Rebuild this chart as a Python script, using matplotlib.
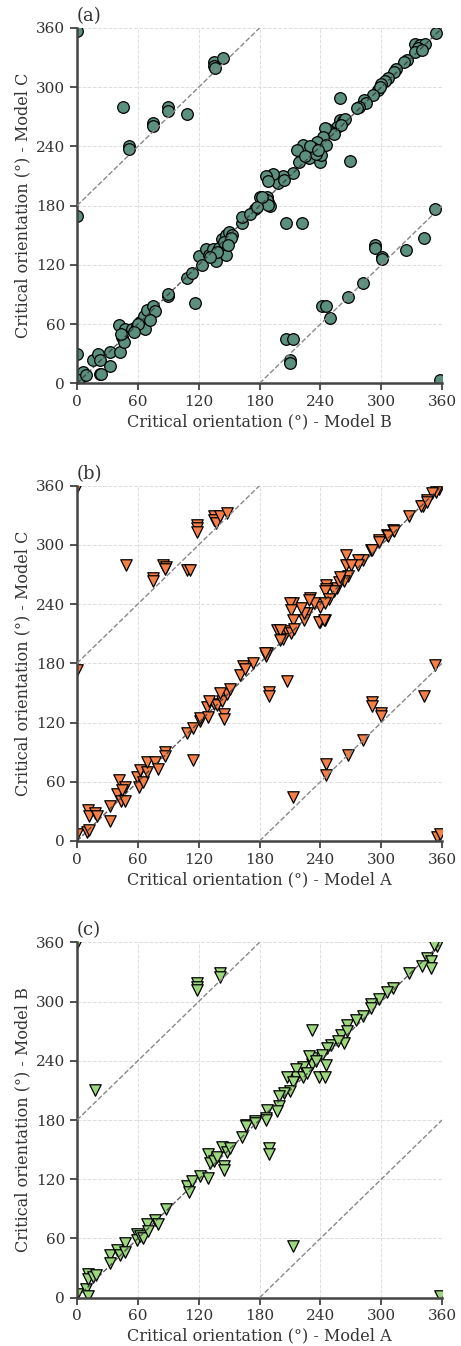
import matplotlib
matplotlib.use("Agg")
import matplotlib.pyplot as plt
import numpy as np

# ---------------- data ----------------
# Panel (a): Model B (x) vs Model C (y)
a_pts = [(0,357),(45,280),(51,240),(51,237),(75,264),(75,261),(90,280),(90,276),(108,273),(135,326),(135,322),(136,319),(144,330),
 (259,289),(269,225),
 (354,355),(333,344),(338,343),(343,344),(336,340),(333,336),(340,338),(325,328),(322,326),(315,318),(313,315),(307,309),(304,306),(300,303),(297,297),(299,300),(292,292),(283,287),(285,284),(278,280),(276,279),
 (259,267),(262,266),(264,268),(256,260),(260,262),(250,255),(247,258),(253,253),(245,259),(243,250),(240,241),(237,244),(233,238),(227,235),(223,241),(217,236),(219,224),(229,228),(240,224),(241,231),(246,241),(236,232),(230,240),(225,230),(238,236),
 (213,213),(203,210),(198,203),(193,212),(186,210),(188,205),(204,206),(180,189),(187,189),(188,184),(190,180),(176,177),(187,186),(188,181),
 (163,162),(163,169),(171,172),(177,179),(182,189),
 (0,170),(0,30),(3,5),(6,11),(1,3),(9,8),(22.7,9.4),(16,24),(21,30),(23,24),(24,9),(33,18),(33,32),(42,32),(41,59),(44,47),(46,42),(47,55),(43,50),(54,55),(59,58),(62,62),(67,55),(66,68),(69,74),(75,78),(77,73),(72,64),(60,60),(56,52),
 (90,88),(90,91),(108,107),(113,112),(116,81),(120,129),(123,120),(127,136),(130,130),(134,136),(137,124),(140,137),(143,146),(147,150),(150,153),(147,130),(153,150),(145,143),(138,133),(131,128),(152,147),(149,140),
 (206,162),(222,162),(206,44.6),(213,45),(210,24),(210,21),(242,78),(246,78),(249,66),(267,87),(282,102),(294,140),(294,137),(301,128),(301,126),(324,135),(342,147),(353,177),(358,3)]

# Panel (b): Model A (x) vs Model C (y)
b_pts = [(0,359),(48,280),(75,266),(75,263),(85,280),(88,278),(87,276),(108,274.5),(111,274.5),(118,320),(118,317),(118,313),(135,329),(135,325),(137,322),(141,329),(148,332),
 (265,290),(265,280),(353,178),
 (357,357),(354,354),(350,353),(345,345),(341,339),(339,339),(345,343),(327,329),(312,315),(306,310),(307,309),(313,314),(298,305),(298,303),(290,295),(291,295),(282,285),(277,285),(277,280),(270,280),
 (267,268),(263,263),(256,256),(258,262),(259,267),(246,259),(246,255),(253,253),(245,253),(248,245),(240,237),(240,222),(245,224),(239,222),(244,224),(230,246),(234,241),(229,244),(227,231),(224,224),(224,231),(221,236),(213,241),(210,241),(211,234),(213,224),(245,241),
 (197,214),(202,210),(207,213),(203,205),(200,214),(211,211),(214,215),(200,204),(187,190),(186,187),(185.5,190.5),(174,180),(164,177),(161,168),(166,174),
 (0,173),(0,7),(10,9),(12,11),(11,31),(12,25),(18,28),(20,25),(33,20),(33,35),(41,62),(39,48),(43,41),(47,55),(47,41),(44,52),(59,65),(61,55),(62,72),(65,60),(69,70),(69,80),(77,80),(80,73),(87,90),(87,86),(108,109),(114,114),(114,82),(121,122),(121,125),(128,136),(129,126),(135,139),(138,138),(143,142),(145,129),(145,124),(148,149),(151,154),(141,150),(130,142),
 (189,151),(189,147),(207,162.5),(213,45),(246,78),(246,67),(267,87),(282,102),(291,141),(291,137),(300,130),(300,127),(342,147),(355,4),(358,7)]

# Panel (c): Model A (x) vs Model B (y)
c_pts = [(0,359),(18,210),(118,319),(118,315),(118,312),(141,329),(141,325),(232,271),
 (355,356),(352,357),(345,344),(349,341),(349,334),(340,336),(327,329),(312,314),(306,310),(298,303),(290,298),(290,293),(282,285),(275,281),(266,276),
 (260,266),(263,258),(266,270),(250,256),(247,253),(242,246),(246,236),(239,224),(245,224),(232,243),(232,237),(223,234),(216,232),(216,224),(223,224),(227,228),(207,224),(213,219),(210,209),(204,207),(199,204),(199,194),(197,189),(187,190),(186,182),(176,179),(167,175),(229,245),(236,240),(257,260),
 (0,4),(9,9),(11,2),(11,24),(11,19),(16,21),(19,23),(33,43),(33,35),(39,48),(42,43),(47,55),(47,46),(59,65),(59,58),(62,62),(65,60),(69,75),(70,68),(77,79),(80,75),(88,90),(108,113),(113,118),(110,107),(121,123),(129,121),(129,146),(131,136),(135,138),(138,143),(143,153),(145,133),(145,129),(148,148),(151,152),(163,163),(167,174),(176,177),(186,180),(189,152),(189,146),(213,52),(358,2)]

panel_labels = ["(a)", "(b)", "(c)"]
x_labels = ["Critical orientation (°) - Model B", "Critical orientation (°) - Model A", "Critical orientation (°) - Model A"]
y_labels = ["Critical orientation (°) - Model C", "Critical orientation (°) - Model C", "Critical orientation (°) - Model B"]
colors = ["#5b8f7e", "#f47f47", "#9dd67e"]
markers = ["o", "v", "v"]
sizes = [70, 68, 68]
ticks = [0, 60, 120, 180, 240, 300, 360]

plt.rcParams['font.family'] = ['DejaVu Serif']

fig = plt.figure(figsize=(4.61, 13.46), dpi=100)
left, width, height = 0.167, 0.792, 0.264
bottoms = [0.7152, 0.3752, 0.0359]

for i, pts in enumerate([a_pts, b_pts, c_pts]):
    ax = fig.add_axes([left, bottoms[i], width, height])
    xs = np.array([p[0] for p in pts])
    ys = np.array([p[1] for p in pts])
    ax.grid(True, linestyle='--', color='#dddddd', linewidth=0.7, zorder=0)
    ax.scatter(xs, ys, s=sizes[i], c=colors[i], marker=markers[i],
               edgecolors='black', linewidths=0.9, zorder=2)
    ax.plot([0, 360], [0, 360], linestyle='--', color='#333333', linewidth=1.0, zorder=3, alpha=0.8)
    ax.plot([0, 180], [180, 360], linestyle='--', color='#888888', linewidth=1.0, zorder=3)
    ax.plot([180, 360], [0, 180], linestyle='--', color='#888888', linewidth=1.0, zorder=3)
    ax.set_xlim(0, 360)
    ax.set_ylim(0, 360)
    ax.set_xticks(ticks)
    ax.set_yticks(ticks)
    ax.tick_params(labelsize=11, colors='#333333', length=5, width=1.2)
    for s in ['top', 'right']:
        ax.spines[s].set_visible(False)
    for s in ['left', 'bottom']:
        ax.spines[s].set_linewidth(1.8)
        ax.spines[s].set_color('#444444')
    ax.set_axisbelow(True)
    ax.set_xlabel(x_labels[i], fontsize=11.5, color='#333333', labelpad=3)
    ax.set_ylabel(y_labels[i], fontsize=11.5, color='#333333', labelpad=3)
    ax.text(0.0, 1.008, panel_labels[i], transform=ax.transAxes, fontsize=13,
            ha='left', va='bottom', color='#333333')

fig.savefig("out.png", dpi=100)
